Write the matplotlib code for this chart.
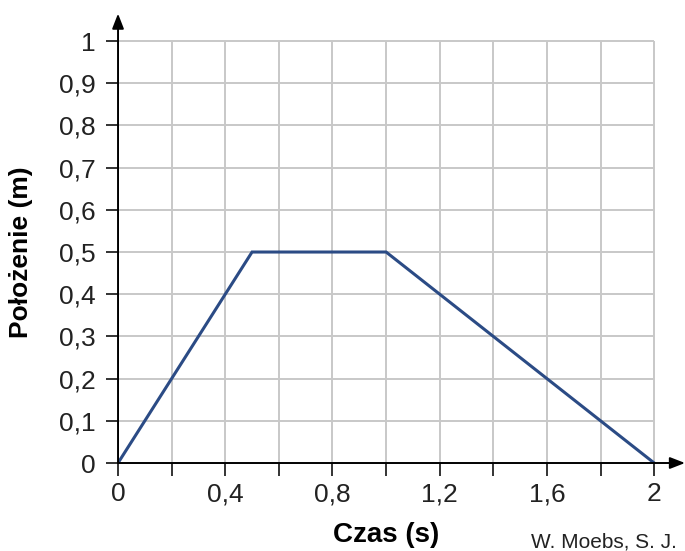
import matplotlib
matplotlib.use("Agg")
from matplotlib import pyplot as plt

plt.rcParams['font.family'] = ['Liberation Sans', 'DejaVu Sans']

# dane wykresu
czas = [0, 0.5, 1.0, 2.0]
polozenie = [0, 0.5, 0.5, 0]
xticks = [0, 0.2, 0.4, 0.6, 0.8, 1.0, 1.2, 1.4, 1.6, 1.8, 2.0]
xlabels = ['0', '', '0,4', '', '0,8', '', '1,2', '', '1,6', '', '2']
yticks = [0, 0.1, 0.2, 0.3, 0.4, 0.5, 0.6, 0.7, 0.8, 0.9, 1.0]
ylabels = ['0', '0,1', '0,2', '0,3', '0,4', '0,5', '0,6', '0,7', '0,8', '0,9', '1']

fig = plt.figure(figsize=(6.85, 5.51), dpi=100)
ax = fig.add_axes([0.1723, 0.1597, 0.8277, 0.8156])
ax.set_xlim(0, 2.115)
ax.set_ylim(0, 1.065)

# siatka tylko w obszarze danych
ax.vlines(xticks[1:], 0, 1, color='#c8c8c8', lw=1.4, zorder=1)
ax.hlines(yticks[1:], 0, 2, color='#c8c8c8', lw=1.4, zorder=1)

ax.plot(czas, polozenie, color='#2b4b85', lw=2.2, zorder=3, solid_joinstyle='miter')

for s in ax.spines.values():
    s.set_visible(False)

# osie ze strzalkami
ax.annotate('', xy=(2.115, 0), xytext=(0, 0), annotation_clip=False,
            arrowprops=dict(arrowstyle='-|>,head_length=0.9,head_width=0.35', color='black', lw=1.4, shrinkA=0, shrinkB=0))
ax.annotate('', xy=(0, 1.065), xytext=(0, 0), annotation_clip=False,
            arrowprops=dict(arrowstyle='-|>,head_length=0.9,head_width=0.35', color='black', lw=1.4, shrinkA=0, shrinkB=0))

ax.set_xticks(xticks)
ax.set_xticklabels(xlabels)
ax.set_yticks(yticks)
ax.set_yticklabels(ylabels)
ax.tick_params(axis='both', direction='out', length=9, width=1.4, color='#333333',
               labelsize=19, labelcolor='#222222', pad=5)
ax.tick_params(axis='y', pad=7)

ax.set_xlabel('Czas (s)', fontsize=20, fontweight='bold')
ax.set_ylabel('Położenie (m)', fontsize=19, fontweight='bold')
ax.xaxis.set_label_coords(0.4727, -0.1313)
ax.yaxis.set_label_coords(-0.150, 0.4695)

fig.text(0.775, 0.007, 'W. Moebs, S. J.', fontsize=15, color='#222222', va='baseline')

fig.savefig('out.png', dpi=100)
